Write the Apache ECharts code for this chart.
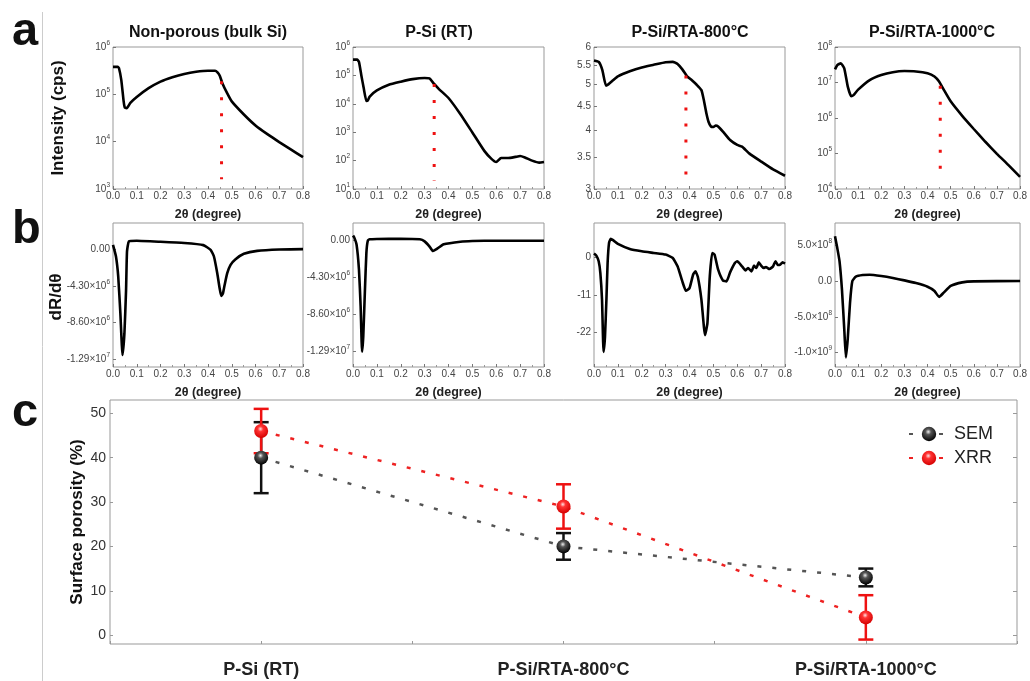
<!DOCTYPE html>
<html><head><meta charset="utf-8">
<script src="https://cdn.jsdelivr.net/npm/echarts@6/dist/echarts.min.js"></script>
<style>html,body{margin:0;padding:0;background:#fff}#c{width:1030px;height:681px}</style>
</head><body><div id="c"></div>
<script>
const FONT = '"Liberation Sans", Arial, Helvetica, sans-serif';

// ---------- data ----------
const panelTitles = ['Non-porous (bulk Si)', 'P-Si (RT)', 'P-Si/RTA-800°C', 'P-Si/RTA-1000°C'];

// row a: XRR intensity (cps) vs 2θ
const intBulk = [[0,3.8e5],[0.02,3.8e5],[0.025,3.6e5],[0.035,2.0e5],[0.045,7.0e4],[0.05,5.2e4],[0.058,5.1e4],[0.073,6.6e4],[0.1,8.8e4],[0.15,1.35e5],[0.2,1.86e5],[0.25,2.3e5],[0.3,2.7e5],[0.35,3.0e5],[0.4,3.16e5],[0.43,3.16e5],[0.44,2.9e5],[0.45,2.45e5],[0.46,1.74e5],[0.48,1.07e5],[0.5,7.1e4],[0.55,3.8e4],[0.6,2.2e4],[0.65,1.44e4],[0.7,9.8e3],[0.75,6.8e3],[0.8,4.7e3]];
const intRT = [[0,3.6e5],[0.017,3.6e5],[0.025,3.0e5],[0.035,1.0e5],[0.045,3.5e4],[0.056,1.25e4],[0.062,1.3e4],[0.07,1.8e4],[0.1,2.95e4],[0.15,4.7e4],[0.2,6.0e4],[0.25,7.4e4],[0.3,8.1e4],[0.32,7.8e4],[0.34,5.0e4],[0.36,3.3e4],[0.4,1.6e4],[0.45,4.3e3],[0.5,9.8e2],[0.55,2.2e2],[0.58,1.15e2],[0.6,8.9e1],[0.62,1.23e2],[0.65,1.23e2],[0.68,1.35e2],[0.7,1.45e2],[0.72,1.29e2],[0.75,1.0e2],[0.78,8.5e1],[0.8,8.9e1]];
const int800 = [[0,5.62],[0.02,5.58],[0.035,5.36],[0.05,4.97],[0.06,5.0],[0.08,5.1],[0.1,5.2],[0.15,5.33],[0.2,5.43],[0.25,5.5],[0.3,5.57],[0.33,5.58],[0.35,5.52],[0.37,5.38],[0.39,5.2],[0.41,5.1],[0.43,4.99],[0.45,4.86],[0.46,4.63],[0.47,4.36],[0.48,4.16],[0.49,4.07],[0.5,4.06],[0.51,4.09],[0.52,4.07],[0.54,3.97],[0.57,3.81],[0.6,3.72],[0.62,3.69],[0.65,3.57],[0.7,3.43],[0.75,3.3],[0.8,3.2]];
const int1000 = [[0,2.34e7],[0.01,3.1e7],[0.025,3.47e7],[0.04,2.5e7],[0.055,7.8e6],[0.07,4.1e6],[0.08,4.4e6],[0.1,6.3e6],[0.15,1.17e7],[0.2,1.62e7],[0.25,1.95e7],[0.3,2.1e7],[0.35,2.05e7],[0.4,1.82e7],[0.43,1.48e7],[0.45,1.07e7],[0.47,6.3e6],[0.5,2.95e6],[0.55,1.15e6],[0.6,4.9e5],[0.65,2.14e5],[0.7,9.8e4],[0.75,4.7e4],[0.8,2.2e4]];

// critical-angle markers (red dotted)
const critX = [0.457, 0.34, 0.385, 0.455];
const critTop = [1.9e5, 5.0e4, 5.22, 8.1e6];
const critBottom = [1.6e3, 20, 3.07, 1.65e4];

// y ranges and tick labels, row a
const intMin = [1e3, 10, 3, 1e4];
const intMax = [1e6, 1e6, 6, 1e8];
const intTicksBulk = [1e3, 1e4, 1e5, 1e6];
const intTicksRT = [10, 1e2, 1e3, 1e4, 1e5, 1e6];
const intTicks800 = [3, 3.5, 4, 4.5, 5, 5.5, 6];
const intTicks1000 = [1e4, 1e5, 1e6, 1e7, 1e8];

// row b: dR/dθ vs 2θ
const derBulk = [[0,0.5e6],[0.0125,-0.86e6],[0.022,-3.2e6],[0.031,-7.5e6],[0.04,-12.4e6],[0.048,-9.9e6],[0.055,-4.8e6],[0.059,-0.27e6],[0.067,0.9e6],[0.1,0.98e6],[0.2,0.86e6],[0.3,0.71e6],[0.38,0.47e6],[0.411,-0.08e6],[0.425,-0.86e6],[0.439,-2.82e6],[0.449,-4.59e6],[0.456,-5.49e6],[0.463,-5.17e6],[0.47,-4.2e6],[0.481,-2.82e6],[0.495,-1.84e6],[0.516,-1.18e6],[0.551,-0.55e6],[0.607,-0.2e6],[0.7,-0.04e6],[0.8,0]];
const derRT = [[0,0.59e6],[0.005,0.39e6],[0.015,-0.47e6],[0.025,-3.4e6],[0.032,-7.7e6],[0.038,-13.0e6],[0.043,-11.2e6],[0.05,-5.75e6],[0.056,-1.45e6],[0.062,0],[0.07,0.16e6],[0.1,0.2e6],[0.2,0.23e6],[0.28,0.16e6],[0.3,-0.08e6],[0.32,-0.66e6],[0.335,-1.21e6],[0.35,-0.98e6],[0.38,-0.43e6],[0.45,-0.12e6],[0.5,-0.04e6],[0.6,0],[0.8,0]];
const der800 = [[0,1.08],[0.0098,0.49],[0.0196,-1.17],[0.0266,-4.6],[0.0336,-12.4],[0.04,-27.6],[0.046,-23.2],[0.052,-12.4],[0.057,-1.66],[0.063,4.2],[0.07,5.38],[0.08,5.0],[0.1,3.91],[0.15,2.44],[0.2,1.76],[0.25,1.27],[0.3,0.78],[0.33,-0.2],[0.35,-2.64],[0.37,-7.04],[0.385,-9.78],[0.4,-9.0],[0.415,-5.08],[0.425,-4.1],[0.435,-5.77],[0.45,-12.4],[0.465,-22.7],[0.475,-19.3],[0.485,-5.57],[0.495,1.27],[0.505,0.78],[0.52,-3.62],[0.54,-6.75],[0.555,-7.04],[0.57,-4.4],[0.59,-1.66],[0.6,-1.17],[0.62,-2.64],[0.635,-3.81],[0.645,-3.13],[0.66,-4.1],[0.67,-2.44],[0.68,-3.13],[0.69,-1.47],[0.7,-2.44],[0.71,-3.13],[0.72,-2.84],[0.735,-3.42],[0.75,-2.64],[0.76,-1.17],[0.77,-2.25],[0.78,-2.15],[0.79,-1.47],[0.8,-1.86]];
const der1000 = [[0,6.25e8],[0.0097,4.63e8],[0.0195,2.78e8],[0.03,-1.16e8],[0.04,-6.7e8],[0.047,-10.65e8],[0.055,-8.1e8],[0.065,-3.0e8],[0.075,0],[0.09,0.6e8],[0.12,0.83e8],[0.15,0.88e8],[0.2,0.69e8],[0.25,0.42e8],[0.3,0.09e8],[0.35,-0.28e8],[0.4,-0.79e8],[0.43,-1.39e8],[0.45,-2.22e8],[0.47,-1.62e8],[0.5,-0.69e8],[0.55,-0.19e8],[0.6,-0.05e8],[0.8,0]];

const derMin = [-1.38e7, -1.478e7, -32, -1.2e9];
const derMax = [3.06e6, 2.07e6, 10, 8.1e8];
const derTicksBulk = [0, -4.3e6, -8.6e6, -1.29e7];
const derTicksRT = [0, -4.3e6, -8.6e6, -1.29e7];
const derTicks800 = [0, -11, -22];
const derTicks1000 = [5e8, 0, -5e8, -1e9];
const derDigits = [2, 2, 0, 1];

// panel c: surface porosity
const sampleNames = ['P-Si (RT)', 'P-Si/RTA-800°C', 'P-Si/RTA-1000°C'];
const semVal = [40, 20, 13];
const semLow = [32, 17, 11];
const semHigh = [48, 23, 15];
const xrrVal = [46, 29, 4];
const xrrLow = [41, 24, -1];
const xrrHigh = [51, 34, 9];
const porTicks = [0, 10, 20, 30, 40, 50];

// ---------- layout ----------
const lefts = [113, 353, 594, 835];
const widths = [190, 191, 191, 191];
const topA = 47, hA = 142, topB = 223, hB = 144;

const LBL = '#444';
const rich = {
  n: {fontSize: 10, color: LBL, fontFamily: FONT, lineHeight: 15},
  s: {fontSize: 6.5, color: LBL, fontFamily: FONT, lineHeight: 6, verticalAlign: 'top'}
};
function powLabel(v) { return '{n|10}{s|' + Math.round(Math.log10(v)) + '}'; }
function sciLabel(d) {
  return function (v) {
    if (v === 0) return '{n|' + (0).toFixed(d) + '}';
    if (d === 0) return '{n|' + v + '}';
    const e = Math.floor(Math.log10(Math.abs(v)) + 1e-9);
    const m = v / Math.pow(10, e);
    return '{n|' + m.toFixed(d) + '×10}{s|' + e + '}';
  };
}

const grids = [], xAxes = [], yAxes = [], series = [];
const intData = [intBulk, intRT, int800, int1000];
const intTicks = [intTicksBulk, intTicksRT, intTicks800, intTicks1000];
const derData = [derBulk, derRT, der800, der1000];
const derTicks = [derTicksBulk, derTicksRT, derTicks800, derTicks1000];

function xAxisCfg(gi, gap) {
  return {
    type: 'value', gridIndex: gi, min: 0, max: 0.8, interval: 0.1, position: 'bottom',
    axisLine: {show: false, onZero: false}, splitLine: {show: false},
    axisTick: {inside: true, length: 3, lineStyle: {color: '#777'}},
    minorTick: {show: true, splitNumber: 2, length: 2, lineStyle: {color: '#999'}},
    axisLabel: {fontSize: 10, color: LBL, fontFamily: FONT, margin: 2, formatter: v => v.toFixed(1)},
    name: '2θ (degree)', nameLocation: 'middle', nameGap: gap,
    nameTextStyle: {fontSize: 12.5, fontWeight: 'bold', color: '#222', fontFamily: FONT}
  };
}

for (let i = 0; i < 4; i++) {
  grids.push({left: lefts[i], top: topA, width: widths[i], height: hA, show: true, borderColor: '#999', borderWidth: 1, backgroundColor: '#fff'});
  xAxes.push(xAxisCfg(i, 19));
  const isPow = i !== 2;
  yAxes.push({
    type: 'log', logBase: 10, gridIndex: i, min: intMin[i], max: intMax[i],
    axisLine: {show: false}, splitLine: {show: false},
    axisTick: {inside: true, length: 3, lineStyle: {color: '#777'}, customValues: intTicks[i]},
    axisLabel: {fontSize: 10, color: LBL, fontFamily: FONT, margin: 3, customValues: intTicks[i],
      formatter: isPow ? powLabel : (v => '{n|' + v + '}'), rich: rich}
  });
  series.push({type: 'line', xAxisIndex: i, yAxisIndex: i, data: intData[i], showSymbol: false, smooth: 0.15,
    lineStyle: {color: '#000', width: 2.6}, z: 3, silent: true});
  series.push({type: 'line', xAxisIndex: i, yAxisIndex: i, data: [[critX[i], critTop[i]], [critX[i], critBottom[i]]],
    showSymbol: false, lineStyle: {color: '#ee1111', width: 3, type: [3, 13]}, z: 4, silent: true});
}
for (let i = 0; i < 4; i++) {
  const gi = 4 + i;
  grids.push({left: lefts[i], top: topB, width: widths[i], height: hB, show: true, borderColor: '#999', borderWidth: 1, backgroundColor: '#fff'});
  xAxes.push(xAxisCfg(gi, 19));
  yAxes.push({
    type: 'value', gridIndex: gi, min: derMin[i], max: derMax[i],
    axisLine: {show: false, onZero: false}, splitLine: {show: false},
    axisTick: {inside: true, length: 3, lineStyle: {color: '#777'}, customValues: derTicks[i]},
    axisLabel: {fontSize: 10, color: LBL, fontFamily: FONT, margin: 3, customValues: derTicks[i],
      formatter: sciLabel(derDigits[i]), rich: rich}
  });
  series.push({type: 'line', xAxisIndex: gi, yAxisIndex: gi, data: derData[i], showSymbol: false, smooth: 0.15,
    lineStyle: {color: '#000', width: 2.6}, z: 3, silent: true});
}

// panel c
grids.push({left: 110, top: 400, width: 907, height: 244, show: true, borderColor: '#999', borderWidth: 1, backgroundColor: 'rgba(0,0,0,0)'});
xAxes.push({
  type: 'value', gridIndex: 8, min: 0.5, max: 3.5, interval: 0.5, position: 'bottom',
  axisLine: {show: false, onZero: false}, splitLine: {show: false},
  axisTick: {inside: true, length: 3, lineStyle: {color: '#999'}},
  axisLabel: {fontSize: 18, fontWeight: 'bold', color: '#222', fontFamily: FONT, margin: 17,
    showMinLabel: true, showMaxLabel: true,
    formatter: v => { const k = Math.round(v); return (Math.abs(v - k) < 1e-6 && k >= 1 && k <= 3) ? sampleNames[k - 1] : ''; }}
});
yAxes.push({
  type: 'value', gridIndex: 8, min: -2, max: 53,
  axisLine: {show: false, onZero: false}, splitLine: {show: false},
  axisTick: {inside: true, length: 3, lineStyle: {color: '#999'}, customValues: porTicks},
  axisLabel: {fontSize: 14, color: '#333', fontFamily: FONT, margin: 4, customValues: porTicks}
});
yAxes.push({
  type: 'value', gridIndex: 8, min: -2, max: 53, position: 'right',
  axisLine: {show: false, onZero: false}, splitLine: {show: false},
  axisTick: {inside: true, length: 4, lineStyle: {color: '#999'}, customValues: porTicks},
  axisLabel: {show: false}
});

const ballBlack = {type: 'radial', x: 0.45, y: 0.35, r: 0.65, colorStops: [{offset: 0, color: '#eeeeee'}, {offset: 0.3, color: '#555'}, {offset: 1, color: '#000'}]};
const ballRed = {type: 'radial', x: 0.45, y: 0.35, r: 0.65, colorStops: [{offset: 0, color: '#ffe0e0'}, {offset: 0.3, color: '#ff3333'}, {offset: 1, color: '#d40000'}]};

function errRender(color) {
  return function (params, api) {
    const x = api.value(0), lo = api.value(1), hi = api.value(2);
    const p1 = api.coord([x, lo]), p2 = api.coord([x, hi]);
    const w = 7.5, st = {stroke: color, lineWidth: 2.5};
    return {type: 'group', children: [
      {type: 'line', shape: {x1: p1[0], y1: p1[1], x2: p2[0], y2: p2[1]}, style: st},
      {type: 'line', shape: {x1: p1[0] - w, y1: p1[1], x2: p1[0] + w, y2: p1[1]}, style: st},
      {type: 'line', shape: {x1: p2[0] - w, y1: p2[1], x2: p2[0] + w, y2: p2[1]}, style: st}
    ]};
  };
}
series.push({type: 'custom', name: 'semErr', xAxisIndex: 8, yAxisIndex: 8, renderItem: errRender('#111'),
  encode: {x: 0, y: [1, 2]}, data: semVal.map((v, k) => [k + 1, semLow[k], semHigh[k]]), z: 5, silent: true});
series.push({type: 'custom', name: 'xrrErr', xAxisIndex: 8, yAxisIndex: 8, renderItem: errRender('#ee1111'),
  encode: {x: 0, y: [1, 2]}, data: xrrVal.map((v, k) => [k + 1, xrrLow[k], xrrHigh[k]]), z: 6, silent: true});
series.push({type: 'line', name: 'SEM', xAxisIndex: 8, yAxisIndex: 8, data: semVal.map((v, k) => [k + 1, v]),
  symbol: 'circle', symbolSize: 14, itemStyle: {color: ballBlack},
  lineStyle: {color: '#555', width: 2.5, type: [4, 11]}, z: 7, silent: true});
series.push({type: 'line', name: 'XRR', xAxisIndex: 8, yAxisIndex: 8, data: xrrVal.map((v, k) => [k + 1, v]),
  symbol: 'circle', symbolSize: 14, itemStyle: {color: ballRed},
  lineStyle: {color: '#ee2222', width: 2.5, type: [4, 11]}, z: 8, silent: true});

const graphics = [
  {type: 'line', shape: {x1: 42.5, y1: 12, x2: 42.5, y2: 681}, style: {stroke: '#cccccc', lineWidth: 1}, silent: true},
  {type: 'text', x: 12, y: 32, style: {text: 'a', font: 'bold 47px ' + FONT, fill: '#111', textVerticalAlign: 'middle'}},
  {type: 'text', x: 12, y: 230, style: {text: 'b', font: 'bold 47px ' + FONT, fill: '#111', textVerticalAlign: 'middle'}},
  {type: 'text', x: 12, y: 413, style: {text: 'c', font: 'bold 47px ' + FONT, fill: '#111', textVerticalAlign: 'middle'}},
  {type: 'text', x: 58, y: 118, rotation: Math.PI / 2, style: {text: 'Intensity (cps)', font: 'bold 17px ' + FONT, fill: '#111', textAlign: 'center', textVerticalAlign: 'middle'}},
  {type: 'text', x: 56, y: 297, rotation: Math.PI / 2, style: {text: 'dR/dθ', font: 'bold 17px ' + FONT, fill: '#111', textAlign: 'center', textVerticalAlign: 'middle'}},
  {type: 'text', x: 77, y: 522, rotation: Math.PI / 2, style: {text: 'Surface porosity (%)', font: 'bold 17px ' + FONT, fill: '#111', textAlign: 'center', textVerticalAlign: 'middle'}}
];
const titleCenters = [208, 439, 690, 932];
for (let i = 0; i < 4; i++) {
  graphics.push({type: 'text', x: titleCenters[i], y: 33, style: {text: panelTitles[i], font: 'bold 16px ' + FONT, fill: '#111', textAlign: 'center', textVerticalAlign: 'middle'}});
}

const chart = echarts.init(document.getElementById('c'), null, {renderer: 'canvas', width: 1030, height: 681});
chart.setOption({
  animation: false,
  backgroundColor: '#fff',
  textStyle: {fontFamily: FONT},
  grid: grids, xAxis: xAxes, yAxis: yAxes, series: series,
  legend: {data: ['SEM', 'XRR'], orient: 'vertical', left: 903, top: 420, itemWidth: 40, itemHeight: 18, itemGap: 6,
    textStyle: {fontSize: 18, color: '#222', fontFamily: FONT}, selectedMode: false},
  graphic: graphics
});
</script></body></html>
